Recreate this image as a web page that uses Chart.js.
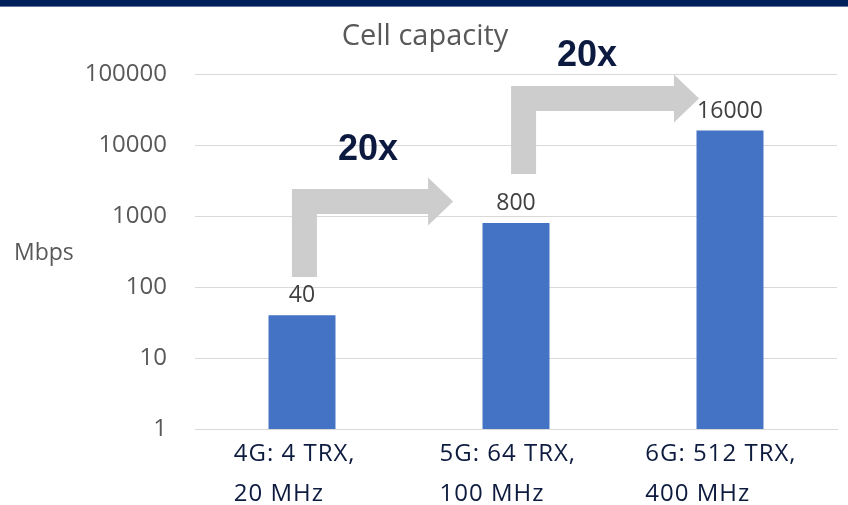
<!DOCTYPE html>
<html>
<head>
<meta charset="utf-8">
<script src="https://cdn.jsdelivr.net/npm/chart.js@4/dist/chart.umd.min.js"></script>
<style>
  html, body { margin: 0; padding: 0; background: #ffffff; }
  #wrap { width: 848px; height: 505px; position: relative; }
</style>
</head>
<body>
<div id="wrap"><canvas id="chart" width="848" height="505"></canvas></div>
<script>
// Capacity per radio generation (Mbps, log axis)
const categories = [['4G: 4 TRX,', '20 MHz'], ['5G: 64 TRX,', '100 MHz'], ['6G: 512 TRX,', '400 MHz']];
const capacity = [40, 800, 16000];
const yTicks = [1, 10, 100, 1000, 10000, 100000];
const titleText = 'Cell capacity';
const unitText = 'Mbps';

// Step arrows between neighbouring generations.
// x in category units, y in Mbps (stem foot / top edge of the horizontal shaft / label baseline).
const stepArrows = [
  { from: -0.047, to: 0.706, foot: 138,  top: 2400,  labelX: 0.308, labelY: 6150 },
  { from: 0.977,  to: 1.855, foot: 3900, top: 68000, labelX: 1.332, labelY: 129700 }
];

const FONT = "'Open Sans', 'Noto Sans', sans-serif";

const decorations = {
  id: 'decorations',
  beforeDraw(chart) {
    const ctx = chart.ctx;
    ctx.save();
    ctx.fillStyle = '#ffffff';
    ctx.fillRect(0, 0, chart.width, chart.height);
    // top banner
    ctx.fillStyle = '#00205B';
    ctx.fillRect(0, 0, chart.width, 6);
    ctx.fillStyle = '#6878A0';
    ctx.fillRect(0, 6, chart.width, 1);
    ctx.restore();
  },
  afterDatasetsDraw(chart) {
    const ctx = chart.ctx;
    const xs = chart.scales.x, ys = chart.scales.y;
    const area = chart.chartArea;
    ctx.save();

    // step arrows
    const w = 25, head = 24, headLen = 25;
    stepArrows.forEach((a, i) => {
      const xL = xs.getPixelForValue(a.from);
      const xTip = xs.getPixelForValue(a.to);
      const yB = ys.getPixelForValue(a.foot);
      const yT = ys.getPixelForValue(a.top);
      const yM = yT + w / 2;
      ctx.beginPath();
      ctx.moveTo(xL, yB);
      ctx.lineTo(xL, yT);
      ctx.lineTo(xTip - headLen, yT);
      ctx.lineTo(xTip - headLen, yM - head);
      ctx.lineTo(xTip, yM);
      ctx.lineTo(xTip - headLen, yM + head);
      ctx.lineTo(xTip - headLen, yT + w);
      ctx.lineTo(xL + w, yT + w);
      ctx.lineTo(xL + w, yB);
      ctx.closePath();
      ctx.fillStyle = '#CDCDCD';
      ctx.fill();

      // growth factor between the two generations
      const factor = Math.round(capacity[i + 1] / capacity[i]);
      ctx.font = "bold 36px 'Liberation Sans', Arial, sans-serif";
      ctx.fillStyle = '#0C1A40';
      ctx.textAlign = 'center';
      ctx.textBaseline = 'alphabetic';
      ctx.fillText(factor + 'x', xs.getPixelForValue(a.labelX), ys.getPixelForValue(a.labelY));
    });

    // value labels above bars
    const meta = chart.getDatasetMeta(0);
    ctx.font = '23px ' + FONT;
    ctx.fillStyle = '#404040';
    ctx.textAlign = 'center';
    ctx.textBaseline = 'alphabetic';
    meta.data.forEach((bar, i) => {
      ctx.fillText(String(capacity[i]), bar.x, bar.y - 13);
    });

    // title
    ctx.font = '29px ' + FONT;
    ctx.fillStyle = '#595959';
    ctx.fillText(titleText, 425, 45);

    // unit label
    ctx.font = '23px ' + FONT;
    ctx.textAlign = 'left';
    ctx.textBaseline = 'middle';
    ctx.fillText(unitText, 14, (area.top + area.bottom) / 2 + 2);

    // category labels: left-aligned lines, block set slightly left of each bar centre
    ctx.font = '24px ' + FONT;
    ctx.fillStyle = '#0D1B3E';
    ctx.textBaseline = 'alphabetic';
    if ('letterSpacing' in ctx) ctx.letterSpacing = '1px';
    categories.forEach((lines, i) => {
      const cx = xs.getPixelForValue(i);
      const wMax = Math.max(...lines.map(l => ctx.measureText(l).width));
      const left = cx - wMax * 0.56;
      lines.forEach((l, j) => ctx.fillText(l, left, area.bottom + 32 + j * 40));
    });
    ctx.restore();
  }
};

Chart.defaults.font.family = FONT;

new Chart(document.getElementById('chart'), {
  type: 'bar',
  data: {
    labels: categories.map(l => l.join(' ')),
    datasets: [{
      data: capacity,
      backgroundColor: '#4472C4',
      borderWidth: 0,
      barPercentage: 1,
      categoryPercentage: 0.313
    }]
  },
  options: {
    responsive: false,
    animation: false,
    layout: { padding: { top: 74, right: 11, bottom: 76, left: 0 } },
    plugins: { legend: { display: false }, tooltip: { enabled: false }, title: { display: false } },
    scales: {
      x: {
        grid: { display: false },
        border: { display: true, color: '#D9D9D9' },
        ticks: { display: false },
        afterFit(s) { s.height = 0; }
      },
      y: {
        type: 'logarithmic',
        min: 1,
        max: 100000,
        afterBuildTicks(s) { s.ticks = yTicks.map(v => ({ value: v })); },
        afterFit(s) { s.width = 195; },
        grid: { color: '#D9D9D9', lineWidth: 1, drawTicks: false },
        border: { display: false },
        ticks: {
          padding: 28,
          color: '#595959',
          font: { size: 24 },
          callback: v => String(v)
        }
      }
    }
  },
  plugins: [decorations]
});
</script>
</body>
</html>
